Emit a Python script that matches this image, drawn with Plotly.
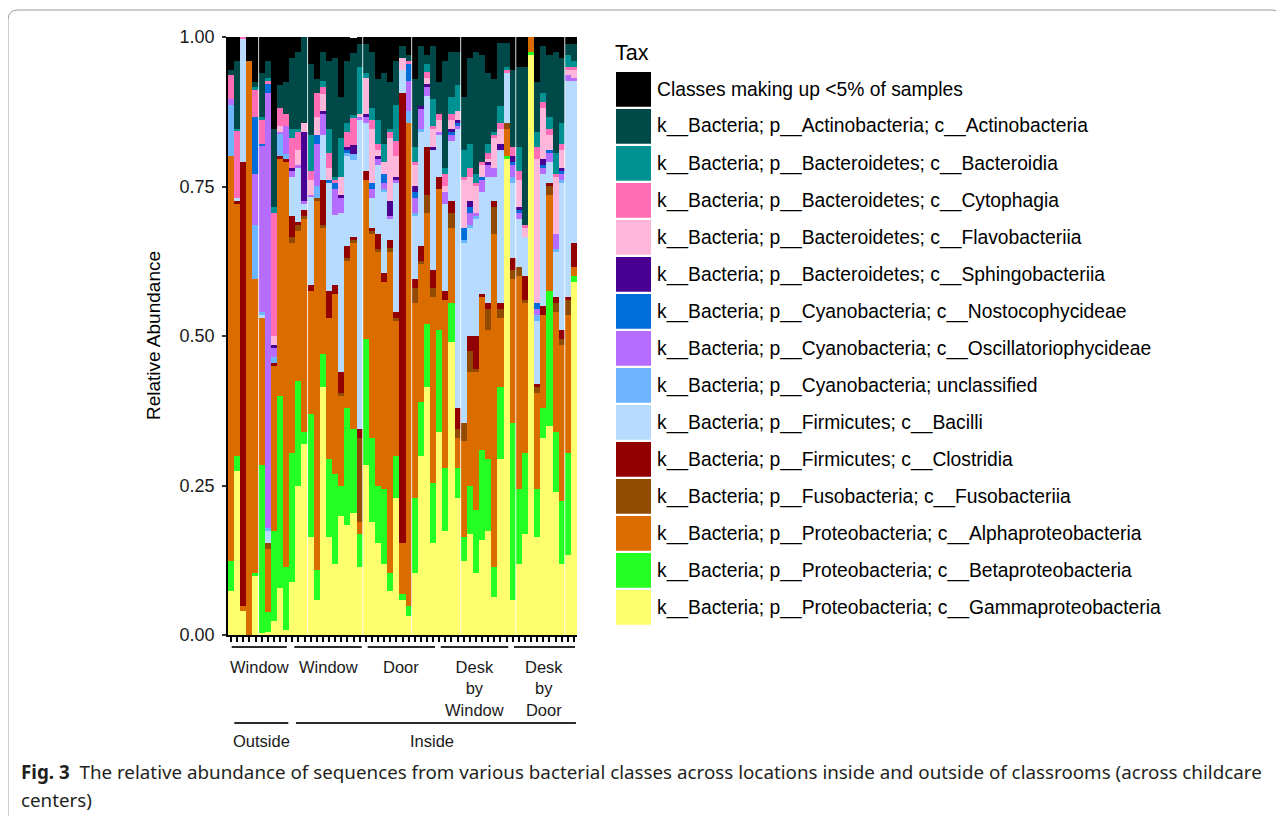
import plotly.graph_objects as go

# ---------------- data ----------------
taxa = [
    "Classes making up <5% of samples",
    "k__Bacteria; p__Actinobacteria; c__Actinobacteria",
    "k__Bacteria; p__Bacteroidetes; c__Bacteroidia",
    "k__Bacteria; p__Bacteroidetes; c__Cytophagia",
    "k__Bacteria; p__Bacteroidetes; c__Flavobacteriia",
    "k__Bacteria; p__Bacteroidetes; c__Sphingobacteriia",
    "k__Bacteria; p__Cyanobacteria; c__Nostocophycideae",
    "k__Bacteria; p__Cyanobacteria; c__Oscillatoriophycideae",
    "k__Bacteria; p__Cyanobacteria; unclassified",
    "k__Bacteria; p__Firmicutes; c__Bacilli",
    "k__Bacteria; p__Firmicutes; c__Clostridia",
    "k__Bacteria; p__Fusobacteria; c__Fusobacteriia",
    "k__Bacteria; p__Proteobacteria; c__Alphaproteobacteria",
    "k__Bacteria; p__Proteobacteria; c__Betaproteobacteria",
    "k__Bacteria; p__Proteobacteria; c__Gammaproteobacteria",
]
colors = ["#000000", "#004949", "#009292", "#ff6db6", "#ffb6db", "#490092", "#006ddb",
          "#b66dff", "#6db6ff", "#b6dbff", "#920000", "#924900", "#db6d00", "#24ff24", "#ffff6d"]

samples = list(range(57))

other = [.055, .040, 0, .040, .075, .061, .040, .154, .080, .075,
         .035, .025, 0, .045, .070, .025, .040, .035, .100, .040,
         .025, .011, .011, .025, .070, .060, .075, .040, .015, .030,
         .070, .015, .030, .015, .075, .040, .025, .025, .100, .035,
         .025, .030, .060, .070, .010, .010, .055, .050, .050, 0,
         .075, .015, .030, .025, .035, .011, .011]
actino = [.009, .114, 0, 0, .008, .073, .029, .130, .039, .054,
          .119, .129, .144, .119, .024, .049, .114, .199, .069, .104,
          .104, .039, .049, .094, .069, .119, .079, .074, .020, .010,
          .114, .101, .015, .089, .054, .179, .075, .055, .089, .144,
          .204, .179, .119, .089, .106, .040, .129, .134, .264, 0,
          .084, .079, .104, .169, .109, .019, .029]
bacteroidia = [0, .004, 0, 0, .006, .005, .005, .010, 0, 0,
               .015, .005, 0, .060, 0, .010, .040, .005, .065, .015,
               .005, .079, .009, .020, .040, .030, .005, .060, 0, 0,
               .025, 0, .013, .045, 0, .010, .029, .044, .045, .040,
               .015, 0, .015, .005, .028, .005, 0, .040, 0, 0,
               .025, .015, .020, .035, .035, .020, .010]
cytophagia = [.040, .112, .004, 0, .045, .040, .005, .206, .030, .020,
              .050, .030, 0, .015, .040, .012, .025, .005, 0, .025,
              .045, 0, 0, .015, .010, 0, .010, .025, 0, .005,
              .005, 0, .011, .005, .010, .020, .010, 0, .005, .015,
              .005, .005, .010, .005, .010, .005, .015, .015, .005, 0,
              .020, .010, .010, .005, .010, .005, .005]
flavo = [0, 0, 0, 0, 0, 0, 0, .015, .010, 0,
         0, .025, .015, .025, .030, .028, .020, 0, .030, 0,
         0, .005, .060, .090, .010, .020, .105, .035, .020, 0,
         .035, 0, .010, .030, .020, .010, .015, .015, .080, .040,
         .045, .020, .005, .050, .025, 0, 0, .045, .015, 0,
         .241, .085, .025, .095, .030, .009, .014]
sphingo = [0, 0, 0, 0, 0, 0, 0, .005, 0, 0,
           .005, 0, .115, 0, 0, .005, 0, 0, .005, .005,
           .015, 0, .005, 0, .005, 0, .025, .005, 0, 0,
           .010, .003, .005, .005, 0, 0, .005, .005, 0, .010,
           0, 0, .005, 0, .010, 0, .010, .005, 0, 0,
           0, .010, 0, 0, .005, 0, 0]
nostoc = [0, 0, 0, 0, .095, .004, .015, 0, 0, 0,
          0, 0, 0, 0, .015, 0, .005, .010, 0, .005,
          0, 0, 0, .010, 0, .015, 0, 0, 0, .029,
          .010, 0, 0, 0, 0, 0, .005, .005, .021, .010,
          0, .005, 0, 0, 0, 0, .005, .005, 0, 0,
          .010, .005, .005, 0, .005, 0, 0]
oscill = [.010, 0, 0, 0, .085, .277, .727, .015, .003, .046,
          .010, .005, .005, .003, .070, .035, 0, .044, .025, 0,
          0, .005, .010, .015, .010, .010, .005, .005, 0, .050,
          .025, .035, .015, 0, .005, .020, .010, .005, 0, .020,
          .005, .020, .020, .015, 0, 0, .020, .010, 0, 0,
          .010, .010, .015, .026, .010, .010, .005]
cyano_uncl = [.085, 0, 0, 0, .090, .005, .005, .010, .037, .009,
              0, 0, 0, 0, .021, 0, 0, 0, 0, .005,
              .010, 0, 0, 0, 0, .005, 0, 0, 0, .020,
              .005, .005, 0, 0, 0, 0, 0, 0, .005, .005,
              .005, 0, 0, 0, 0, 0, .010, 0, 0, 0,
              .010, 0, 0, .005, .005, 0, 0]
bacilli = [0, .004, .205, 0, 0, .005, .020, 0, 0, 0,
           .065, .090, .010, .148, 0, .075, .181, .117, .266, .151,
           .130, .517, .080, .050, .115, .136, .036, .216, .039, 0,
           .106, .191, .085, .201, .070, .146, .100, .466, .300, .181,
           .196, .171, .211, .040, .256, .084, .126, .081, .066, 0,
           .105, .221, .035, .075, .246, .361, .271]
clostridia = [0, .005, .742, 0, 0, 0, 0, .005, .005, .005,
              .035, .005, .010, .010, 0, .075, .045, .015, .035, .020,
              .005, .015, .015, .005, .026, .015, .012, .010, .752, 0,
              .015, .025, .080, .030, .020, .015, .020, .036, 0, .025,
              .055, .005, .010, .010, .010, 0, .020, 0, .040, 0,
              .005, .015, .005, .010, .015, .005, .040]
fuso = [0, 0, 0, 0, 0, 0, .010, 0, 0, 0,
        .011, .010, .005, 0, .004, .005, 0, 0, .005, .005,
        .005, .140, 0, .005, .005, 0, .008, .005, 0, 0,
        .025, .005, .030, .015, 0, 0, .025, .015, .031, .035,
        .005, 0, .035, .045, .015, .010, .015, .015, .005, 0,
        .010, 0, .015, .015, .010, .025, 0]
alpha = [.677, .422, .009, .960, .492, .246, .106, .276, .396, .677,
         .351, .251, .357, .205, .617, .211, .236, .301, .151, .245,
         .311, .020, .266, .342, .391, .346, .536, .226, .085, .807,
         .326, .230, .186, .311, .236, .281, .126, .050, .160, .191,
         .231, .256, .216, .557, .115, .045, .240, .356, .251, .025,
         .161, .155, .161, .201, .261, .231, .015]
beta = [.050, .025, 0, 0, .005, .280, .033, .151, .321, .106,
        .215, .176, .020, .206, .050, .055, .130, .150, .050, .196,
        .140, .055, .211, .140, .095, .125, .030, .070, .010, .018,
        .125, .091, .105, .100, .171, .105, .065, .050, .040, .080,
        .105, .150, .120, .050, .121, .005, .296, .125, .135, .005,
        .080, .051, .225, .100, .105, .170, .010]
gamma = [.074, .274, .040, 0, .099, .004, .005, .023, .079, .008,
         .089, .249, .319, .164, .059, .415, .164, .119, .199, .184,
         .204, .114, .284, .189, .154, .119, .074, .229, .059, .031,
         .104, .299, .415, .154, .339, .174, .490, .229, .124, .169,
         .104, .159, .174, .064, .294, .796, .059, .119, .169, .970,
         .164, .329, .350, .239, .119, .134, .590]

series = [other, actino, bacteroidia, cytophagia, flavo, sphingo, nostoc, oscill,
          cyano_uncl, bacilli, clostridia, fuso, alpha, beta, gamma]

y_ticks = [0, 0.25, 0.5, 0.75, 1.0]
y_ticktext = ["0.00", "0.25", "0.50", "0.75", "1.00"]

# sample groups (in units of bar positions)
loc_labels = ["Window", "Window", "Door", "Desk<br>by<br>Window", "Desk<br>by<br>Door"]
loc_start = [0.10, 10.33, 22.32, 34.24, 46.21]
loc_end = [9.09, 21.34, 33.31, 45.28, 56.17]
site_labels = ["Outside", "Inside"]
site_start = [0.53, 10.60]
site_end = [9.35, 56.33]
seams = [4.5, 12.5, 21.5, 29.5, 37.5, 46.5, 54.5]

# ---------------- geometry helpers ----------------
# the page body adds an 8 px margin, so the figure is placed at (8, 8) on the page
OFF = 8
W, H = 1276, 808
L, T = 220, 29
PW, PH = 349, 598
R = W - L - PW
B = H - T - PH


def pxx(x):
    """page pixel x -> paper coordinate"""
    return (x - OFF - L) / PW


def pyy(y):
    """page pixel y -> paper coordinate"""
    return (T + PH + OFF - y) / PH


FONT = "Liberation Sans, Arial, Helvetica, sans-serif"

fig = go.Figure()
for name, col, vals in reversed(list(zip(taxa, colors, series))):
    fig.add_trace(go.Bar(x=samples, y=vals, name=name, marker=dict(color=col, line=dict(width=0)),
                         hoverinfo="skip", showlegend=False))

shapes = []
annotations = []

# anti-aliasing seams visible in the original
for s in seams:
    shapes.append(dict(type="line", xref="x", yref="paper", x0=s, x1=s, y0=0, y1=1,
                       line=dict(color="rgba(255,255,255,0.85)", width=1), layer="above"))

# group brackets
for lab, a, b in zip(loc_labels, loc_start, loc_end):
    shapes.append(dict(type="line", xref="x", yref="paper", x0=a, x1=b, y0=pyy(647), y1=pyy(647),
                       line=dict(color="#2b2b2b", width=2)))
    annotations.append(dict(xref="x", yref="paper", x=(a + b) / 2, y=pyy(656), text=lab,
                            showarrow=False, xanchor="center", yanchor="top", align="center",
                            font=dict(family=FONT, size=16.5, color="#1a1a1a")))
for lab, a, b in zip(site_labels, site_start, site_end):
    shapes.append(dict(type="line", xref="x", yref="paper", x0=a, x1=b, y0=pyy(723), y1=pyy(723),
                       line=dict(color="#2b2b2b", width=2)))
    annotations.append(dict(xref="x", yref="paper", x=(a + b) / 2 - (0.7 if lab == "Inside" else 0),
                            y=pyy(741), text=lab, showarrow=False, xanchor="center", yanchor="middle",
                            font=dict(family=FONT, size=16.5, color="#1a1a1a")))

# y-axis title
annotations.append(dict(xref="paper", yref="paper", x=pxx(153), y=pyy(336), text="Relative Abundance",
                        textangle=-90, showarrow=False, xanchor="center", yanchor="middle",
                        font=dict(family=FONT, size=19, color="#000000")))

# legend (drawn manually to reproduce the large ggplot keys)
annotations.append(dict(xref="paper", yref="paper", x=pxx(613), y=pyy(53), text="Tax",
                        showarrow=False, xanchor="left", yanchor="middle",
                        font=dict(family=FONT, size=21.5, color="#000000")))
for i, (name, col) in enumerate(zip(taxa, colors)):
    top = 72 + 37 * i
    shapes.append(dict(type="rect", xref="paper", yref="paper", x0=pxx(616), x1=pxx(651),
                       y0=pyy(top), y1=pyy(top + 34.7), fillcolor=col, line=dict(width=0)))
    annotations.append(dict(xref="paper", yref="paper", x=pxx(655), y=pyy(top + 17.5),
                            text=name.replace("<", "&lt;"), showarrow=False, xanchor="left",
                            yanchor="middle", font=dict(family=FONT, size=19.3, color="#000000")))

# outer frame with rounded corner
x0, y0, x1, y1, r = pxx(8), pyy(10), pxx(1282), pyy(830), 10
rx, ry = r / PW, r / PH
path = (f"M {x0},{y1} L {x0},{y0 - ry} Q {x0},{y0} {x0 + rx},{y0} "
        f"L {x1 - rx},{y0} Q {x1},{y0} {x1},{y0 - ry} L {x1},{y1}")
shapes.append(dict(type="path", xref="paper", yref="paper", path=path,
                   line=dict(color="#9a9a9a", width=1)))

# caption
CAP = "Noto Sans, Open Sans, sans-serif"
annotations.append(dict(xref="paper", yref="paper", x=pxx(19), y=pyy(772),
                        text="<b>Fig. 3</b>  The relative abundance of sequences from various bacterial classes across "
                             "locations inside and outside of classrooms (across childcare",
                        showarrow=False, xanchor="left", yanchor="middle",
                        font=dict(family=CAP, size=18.8, color="#231f20")))
annotations.append(dict(xref="paper", yref="paper", x=pxx(19), y=pyy(800), text="centers)",
                        showarrow=False, xanchor="left", yanchor="middle",
                        font=dict(family=CAP, size=18.8, color="#231f20")))

fig.update_layout(
    width=W, height=H, autosize=False,
    margin=dict(l=L, r=R, t=T, b=B, pad=0),
    paper_bgcolor="white", plot_bgcolor="white",
    barmode="stack", bargap=0,
    showlegend=False,
    shapes=shapes, annotations=annotations,
    xaxis=dict(range=[-0.5, 56.5], tickmode="array", tickvals=samples, showticklabels=False,
               ticks="outside", ticklen=5, tickwidth=1.5, tickcolor="#000000",
               showline=True, linecolor="#000000", linewidth=1.5, showgrid=False, zeroline=False,
               fixedrange=True),
    yaxis=dict(range=[0, 1], tickmode="array", tickvals=y_ticks, ticktext=y_ticktext,
               ticks="outside", ticklen=4, tickwidth=1.5, tickcolor="#333333",
               ticklabelstandoff=4,
               tickfont=dict(family=FONT, size=18, color="#1a1a1a"),
               showline=True, linecolor="#000000", linewidth=1.5, showgrid=False, zeroline=False,
               fixedrange=True),
)

fig.write_html("out.html")
